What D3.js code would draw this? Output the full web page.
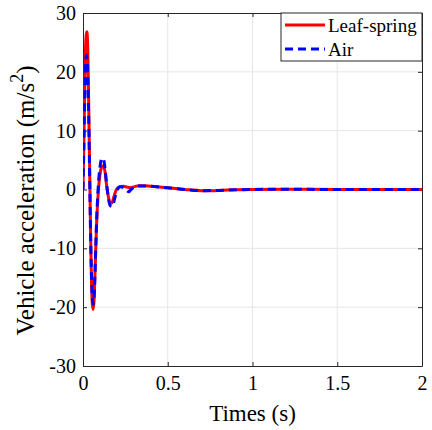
<!DOCTYPE html>
<html><head><meta charset="utf-8">
<script src="https://cdn.jsdelivr.net/npm/d3@7/dist/d3.min.js"></script>
<style>body{margin:0;background:#fff}svg{display:block}</style>
</head><body><svg id="c" width="432" height="430"></svg>
<script>
const xTicks = [0, 0.5, 1, 1.5, 2];
const xTickLabels = ["0", "0.5", "1", "1.5", "2"];
const yTicks = [-30, -20, -10, 0, 10, 20, 30];
const yTickLabels = ["-30", "-20", "-10", "0", "10", "20", "30"];
const seriesNames = ["Leaf-spring", "Air"];

const leafTime = [0,0.005,0.01,0.015,0.02,0.023,0.027,0.03,0.035,0.04,0.045,0.05,0.055,0.06,0.065,0.07,0.08,0.09,0.1,0.11,0.12,0.13,0.14,0.15,0.16,0.17,0.18,0.19,0.2,0.22,0.24,0.26,0.28,0.3,0.33,0.36,0.4,0.5,0.6,0.7,0.8,0.9,1.0,1.2,1.5,2.0];
const leafAcc  = [0,8,17,24,26.5,26.8,25,21,12,2,-8,-15.5,-19.5,-20.4,-19,-15,-6,-0.5,2.5,3.8,4.1,3,0.5,-1.3,-2.2,-2.3,-1.5,-0.5,0.1,0.5,0.55,0.4,0.3,0.45,0.65,0.65,0.55,0.3,0.0,-0.2,-0.15,-0.05,0,0.05,0,0];

const airTime = [0,0.005,0.01,0.015,0.02,0.025,0.03,0.035,0.04,0.045,0.05,0.055,0.06,0.065,0.07,0.08,0.09,0.1,0.11,0.12,0.13,0.14,0.15,0.16,0.17,0.18,0.19,0.2,0.22,0.24,0.26,0.27,0.28,0.3,0.33,0.36,0.4,0.5,0.6,0.7,0.8,0.9,1.0,1.2,1.5,2.0];
const airAcc  = [0,7,15,21,22.8,21.5,17.5,10,1,-8,-14.5,-18.5,-19.5,-18.5,-15,-5.5,0.5,3.8,5.2,5.3,3.5,0.8,-1.5,-2.7,-2.9,-2.3,-1.2,-0.2,0.45,0.3,-0.2,-0.4,-0.1,0.4,0.6,0.6,0.55,0.3,0.0,-0.2,-0.15,-0.05,0,0.05,0,0];

const svg = d3.select("#c");
const L = 83, R = 422, T = 13, B = 366;
const x = d3.scaleLinear().domain([0, 2]).range([L, R]);
const y = d3.scaleLinear().domain([-30, 30]).range([B, T]);
const font = "'Liberation Serif','Times New Roman',serif";
const axisCol = "#262626";

// grid
const g = svg.append("g");
g.selectAll(".gx").data(xTicks.slice(1, -1)).enter().append("line")
  .attr("x1", d => x(d)).attr("x2", d => x(d)).attr("y1", T).attr("y2", B)
  .attr("stroke", "#e6e6e6").attr("stroke-width", 1);
g.selectAll(".gy").data(yTicks.slice(1, -1)).enter().append("line")
  .attr("x1", L).attr("x2", R).attr("y1", d => y(d)).attr("y2", d => y(d))
  .attr("stroke", "#e6e6e6").attr("stroke-width", 1);

// axes with inward ticks
const ax = d3.axisBottom(x).tickValues(xTicks).tickFormat((d, i) => xTickLabels[i]).tickSizeInner(-4).tickSizeOuter(0).tickPadding(10);
const ay = d3.axisLeft(y).tickValues(yTicks).tickFormat((d, i) => yTickLabels[i]).tickSizeInner(-4).tickSizeOuter(0).tickPadding(7);
const axT = d3.axisTop(x).tickValues(xTicks).tickFormat("").tickSizeInner(-4).tickSizeOuter(0);
const ayR = d3.axisRight(y).tickValues(yTicks).tickFormat("").tickSizeInner(-4).tickSizeOuter(0);

function style(sel) {
  sel.selectAll("path").attr("stroke", axisCol).attr("stroke-width", 1);
  sel.selectAll("line").attr("stroke", axisCol).attr("stroke-width", 1);
  sel.selectAll("text").attr("fill", "#000").style("font-family", font).style("font-size", "20px");
}
svg.append("g").attr("transform", `translate(0,${B})`).call(ax).call(style);
svg.append("g").attr("transform", `translate(${L},0)`).call(ay).call(style);
svg.append("g").attr("transform", `translate(0,${T})`).call(axT).call(style);
svg.append("g").attr("transform", `translate(${R},0)`).call(ayR).call(style);

// lines
svg.append("clipPath").attr("id", "clip").append("rect").attr("x", L).attr("y", T).attr("width", R - L).attr("height", B - T);
const line = d3.line().x(d => x(d[0])).y(d => y(d[1])).curve(d3.curveMonotoneX);
const leaf = leafTime.map((t, i) => [t, leafAcc[i]]);
const air = airTime.map((t, i) => [t, airAcc[i]]);
const lg = svg.append("g").attr("clip-path", "url(#clip)");
lg.append("path").datum(leaf).attr("d", line).attr("fill", "none").attr("stroke", "#ff0000").attr("stroke-width", 3).attr("stroke-linejoin", "round");
lg.append("path").datum(air).attr("d", line).attr("fill", "none").attr("stroke", "#0000ff").attr("stroke-width", 3).attr("stroke-dasharray", "8,5");

// labels
svg.append("text").attr("x", (L + R) / 2).attr("y", 421).attr("text-anchor", "middle")
  .style("font-family", font).style("font-size", "23px").text("Times (s)");
const yl = svg.append("text").attr("transform", `translate(34,${(T + B) / 2 + 11}) rotate(-90)`).attr("text-anchor", "middle")
  .style("font-family", font).style("font-size", "25px");
yl.append("tspan").text("Vehicle acceleration (m/s");
yl.append("tspan").attr("dy", -11).style("font-size", "18px").text("2");
yl.append("tspan").attr("dy", 11).text(")");

// legend
const lgX = 281, lgY = T, lgW = R - 281, lgH = 48;
svg.append("rect").attr("x", lgX).attr("y", lgY).attr("width", lgW).attr("height", lgH)
  .attr("fill", "#fff").attr("stroke", axisCol).attr("stroke-width", 1);
const legRows = [{name: seriesNames[0], color: "#ff0000", dash: null}, {name: seriesNames[1], color: "#0000ff", dash: "8,5"}];
legRows.forEach((r, i) => {
  const cy = lgY + 12 + i * 24;
  svg.append("line").attr("x1", 285).attr("x2", 325).attr("y1", cy).attr("y2", cy)
    .attr("stroke", r.color).attr("stroke-width", 3).attr("stroke-dasharray", r.dash);
  svg.append("text").attr("x", 328).attr("y", cy + 6.5).style("font-family", font).style("font-size", "19px").text(r.name);
});
</script></body></html>
